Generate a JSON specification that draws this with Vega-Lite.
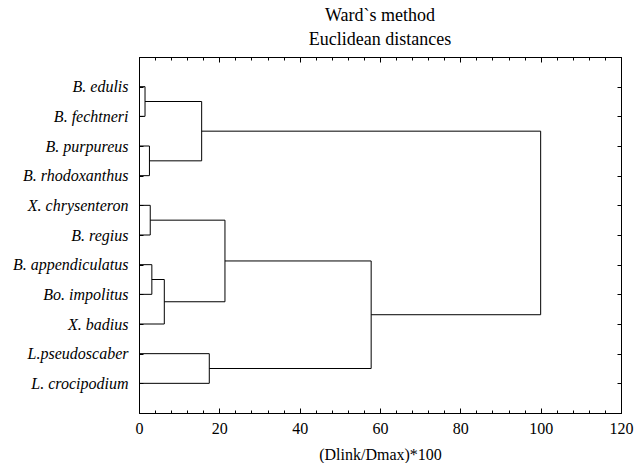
{
  "$schema": "https://vega.github.io/schema/vega-lite/v6.json",
  "width": 482,
  "height": 356,
  "autosize": {"type": "none"},
  "padding": {"left": 139, "top": 57, "right": 23, "bottom": 50},
  "background": "white",
  "title": {
    "text": ["Ward`s method", "Euclidean distances"],
    "font": "Liberation Serif, Times New Roman, serif",
    "fontSize": 18,
    "fontWeight": "normal",
    "color": "black",
    "anchor": "middle",
    "lineHeight": 24,
    "offset": 8
  },
  "datasets": {
    "horiz": [
      {"x": 0, "x2": 1.5, "y": 0},
      {"x": 0, "x2": 1.5, "y": 1},
      {"x": 0, "x2": 2.6, "y": 2},
      {"x": 0, "x2": 2.6, "y": 3},
      {"x": 0, "x2": 2.8, "y": 4},
      {"x": 0, "x2": 2.8, "y": 5},
      {"x": 0, "x2": 3.2, "y": 6},
      {"x": 0, "x2": 3.2, "y": 7},
      {"x": 0, "x2": 6.3, "y": 8},
      {"x": 0, "x2": 17.5, "y": 9},
      {"x": 0, "x2": 17.5, "y": 10},
      {"x": 1.5, "x2": 15.6, "y": 0.5},
      {"x": 2.6, "x2": 15.6, "y": 2.5},
      {"x": 3.2, "x2": 6.3, "y": 6.5},
      {"x": 2.8, "x2": 21.4, "y": 4.5},
      {"x": 6.3, "x2": 21.4, "y": 7.25},
      {"x": 21.4, "x2": 57.8, "y": 5.875},
      {"x": 17.5, "x2": 57.8, "y": 9.5},
      {"x": 15.6, "x2": 100, "y": 1.5},
      {"x": 57.8, "x2": 100, "y": 7.6875}
    ],
    "vert": [
      {"h": 1.5, "y": 0, "y2": 1},
      {"h": 2.6, "y": 2, "y2": 3},
      {"h": 15.6, "y": 0.5, "y2": 2.5},
      {"h": 2.8, "y": 4, "y2": 5},
      {"h": 3.2, "y": 6, "y2": 7},
      {"h": 6.3, "y": 6.5, "y2": 8},
      {"h": 21.4, "y": 4.5, "y2": 7.25},
      {"h": 17.5, "y": 9, "y2": 10},
      {"h": 57.8, "y": 5.875, "y2": 9.5},
      {"h": 100, "y": 1.5, "y2": 7.6875}
    ]
  },
  "layer": [
    {
      "data": {"name": "horiz"},
      "mark": {"type": "rule", "color": "black", "strokeWidth": 1},
      "encoding": {
        "x": {
          "field": "x", "type": "quantitative",
          "scale": {"domain": [0, 120], "nice": false, "zero": false},
          "axis": {
            "orient": "bottom",
            "values": [0,4,8,12,16,20,24,28,32,36,40,44,48,52,56,60,64,68,72,76,80,84,88,92,96,100,104,108,112,116,120],
            "tickSize": {"condition": {"test": "datum.value % 20 === 0", "value": -5}, "value": -3},
            "labelExpr": "datum.value % 20 === 0 ? datum.label : ''",
            "labelOverlap": false,
            "labelFlush": false,
            "labelFont": "Liberation Serif, Times New Roman, serif",
            "labelFontSize": 16,
            "labelColor": "black",
            "labelPadding": 12,
            "title": "(Dlink/Dmax)*100",
            "titleFont": "Liberation Serif, Times New Roman, serif",
            "titleFontSize": 16,
            "titleFontWeight": "normal",
            "titleColor": "black",
            "titlePadding": 8,
            "grid": false,
            "domainColor": "black",
            "tickColor": "black"
          }
        },
        "x2": {"field": "x2"},
        "y": {
          "field": "y", "type": "quantitative",
          "scale": {"domain": [-1, 11], "nice": false, "zero": false, "reverse": true},
          "axis": {
            "orient": "left",
            "values": [0,1,2,3,4,5,6,7,8,9,10],
            "tickSize": -4,
            "labelExpr": "['B. edulis','B. fechtneri','B. purpureus','B. rhodoxanthus','X. chrysenteron','B. regius','B. appendiculatus','Bo. impolitus','X. badius','L.pseudoscaber','L. crocipodium'][datum.value]",
            "labelOverlap": false,
            "labelFlush": false,
            "labelFont": "Liberation Serif, Times New Roman, serif",
            "labelFontStyle": "italic",
            "labelFontSize": 16,
            "labelColor": "black",
            "labelPadding": 15,
            "title": null,
            "grid": false,
            "domainColor": "black",
            "tickColor": "black"
          }
        }
      }
    },
    {
      "data": {"name": "vert"},
      "mark": {"type": "rule", "color": "black", "strokeWidth": 1},
      "encoding": {
        "x": {
          "field": "h", "type": "quantitative",
          "axis": {
            "orient": "top",
            "values": [0,4,8,12,16,20,24,28,32,36,40,44,48,52,56,60,64,68,72,76,80,84,88,92,96,100,104,108,112,116,120],
            "tickSize": {"condition": {"test": "datum.value % 20 === 0", "value": -5}, "value": -3},
            "labels": false,
            "title": null,
            "grid": false,
            "domainColor": "black",
            "tickColor": "black"
          }
        },
        "y": {
          "field": "y", "type": "quantitative",
          "axis": {
            "orient": "right",
            "values": [0,1,2,3,4,5,6,7,8,9,10],
            "tickSize": -4,
            "labels": false,
            "title": null,
            "grid": false,
            "domainColor": "black",
            "tickColor": "black"
          }
        },
        "y2": {"field": "y2"}
      }
    }
  ],
  "resolve": {"axis": {"x": "independent", "y": "independent"}},
  "config": {
    "view": {"stroke": "black", "strokeWidth": 1}
  }
}
